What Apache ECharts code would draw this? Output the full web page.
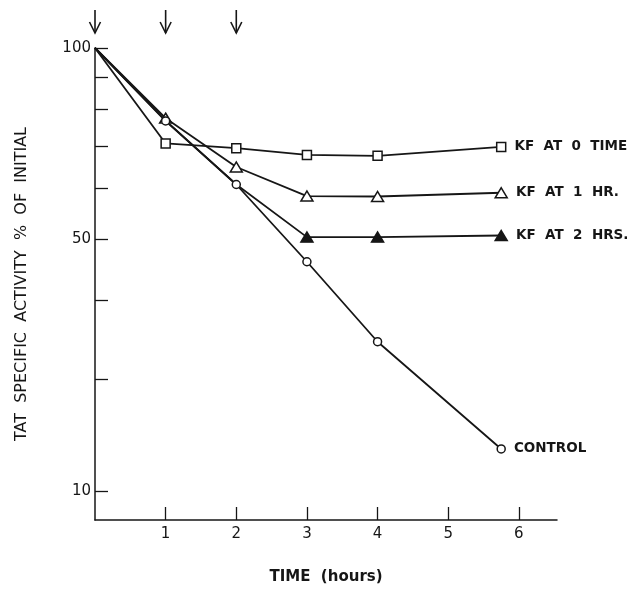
<!DOCTYPE html>
<html>
<head>
<meta charset="utf-8">
<script src="https://cdn.jsdelivr.net/npm/echarts@6/dist/echarts.min.js"></script>
<style>
  html, body { margin: 0; padding: 0; background: #ffffff; }
  #chart { width: 638px; height: 590px; }
</style>
</head>
<body>
<div id="chart"></div>
<script>
// ---- data ----
const times = [0, 1, 2, 3, 4, 5.75];
const kfAt0 = [100, 70.7, 69.5, 67.8, 67.6, 69.8];
const kfAt1 = [100, 77.5, 64.9, 58.4, 58.3, 59.1];
const kfAt2 = [100, 76.8, 60.9, 50.3, 50.3, 50.6];
const control = [100, 76.7, 60.9, 46.0, 34.4, 23.3];
const seriesNames = ['KF  AT  0  TIME', 'KF  AT  1  HR.', 'KF  AT  2  HRS.', 'CONTROL'];
const arrowTimes = [0, 1, 2];
const xTickValues = [1, 2, 3, 4, 5, 6];
const yTickValues = [100, 90, 80, 70, 60, 50, 40, 30, 20];
const yLabelValues = [100, 50, 20];
const yLabelTexts = ['100', '50', '10'];

const FONT = 'DejaVu Sans';
const INK = '#161616';

function makeSeries(name, values, symbol, size, filled, firstMarker) {
  return {
    name: name,
    type: 'line',
    data: values.map((v, i) => ({
      value: [times[i], v],
      symbol: i < firstMarker ? 'none' : symbol,
      label: i === values.length - 1 ? {
        show: true, position: 'right', distance: 8,
        formatter: name, color: INK, fontFamily: FONT,
        fontWeight: 'bold', fontSize: 13.5
      } : { show: false }
    })),
    symbolSize: size,
    showAllSymbol: true,
    lineStyle: { color: INK, width: 1.8 },
    itemStyle: { color: filled ? INK : '#ffffff', borderColor: INK, borderWidth: 1.5 },
    emphasis: { disabled: true },
    animation: false,
    z: 3
  };
}

const chart = echarts.init(document.getElementById('chart'), null, { renderer: 'canvas' });
chart.setOption({
  backgroundColor: '#ffffff',
  animation: false,
  grid: { left: 95, top: 48, width: 462, height: 475, containLabel: false },
  xAxis: {
    type: 'value', min: 0, max: 6.54,
    name: 'TIME  (hours)', nameLocation: 'middle', nameGap: 50,
    nameTextStyle: { color: INK, fontFamily: FONT, fontSize: 15, fontWeight: 'bold' },
    axisLine: { show: true, lineStyle: { color: INK, width: 1.5 } },
    axisTick: { show: true, inside: true, length: 13, lineStyle: { color: INK, width: 1.3 }, customValues: xTickValues },
    axisLabel: { color: INK, fontFamily: FONT, fontSize: 15, margin: 7, customValues: xTickValues },
    splitLine: { show: false }
  },
  yAxis: {
    type: 'log', logBase: 10, min: 18, max: 100,
    name: 'TAT  SPECIFIC  ACTIVITY  %  OF  INITIAL', nameLocation: 'middle', nameGap: 65,
    nameTextStyle: { color: INK, fontFamily: FONT, fontSize: 16 },
    axisLine: { show: true, lineStyle: { color: INK, width: 1.5 } },
    axisTick: { show: true, inside: true, length: 13, lineStyle: { color: INK, width: 1.3 }, customValues: yTickValues },
    axisLabel: {
      color: INK, fontFamily: FONT, fontSize: 15, margin: 4, customValues: yLabelValues,
      formatter: function (v) {
        const i = yLabelValues.findIndex(t => Math.abs(t - v) < 1e-6);
        return i >= 0 ? yLabelTexts[i] : '';
      }
    },
    splitLine: { show: false },
    minorTick: { show: false }
  },
  series: [
    makeSeries(seriesNames[0], kfAt0, 'rect', [9, 9], false, 1),
    makeSeries(seriesNames[1], kfAt1, 'triangle', [12, 10], false, 1),
    makeSeries(seriesNames[2], kfAt2, 'triangle', [12, 10], true, 3),
    makeSeries(seriesNames[3], control, 'circle', 8, false, 1),
    {
      type: 'custom',
      clip: false,
      silent: true,
      data: arrowTimes.map(t => [t, 100]),
      renderItem: function (params, api) {
        const p = api.coord([api.value(0), api.value(1)]);
        const x = p[0], y = p[1];
        return {
          type: 'group',
          children: [
            { type: 'line', shape: { x1: x, y1: y - 38, x2: x, y2: y - 15 }, style: { stroke: INK, lineWidth: 1.6 } },
            { type: 'polyline', shape: { points: [[x - 5.5, y - 26], [x, y - 15], [x + 5.5, y - 26]] }, style: { stroke: INK, lineWidth: 1.6, fill: null } }
          ]
        };
      },
      z: 4
    }
  ]
});
</script>
</body>
</html>
